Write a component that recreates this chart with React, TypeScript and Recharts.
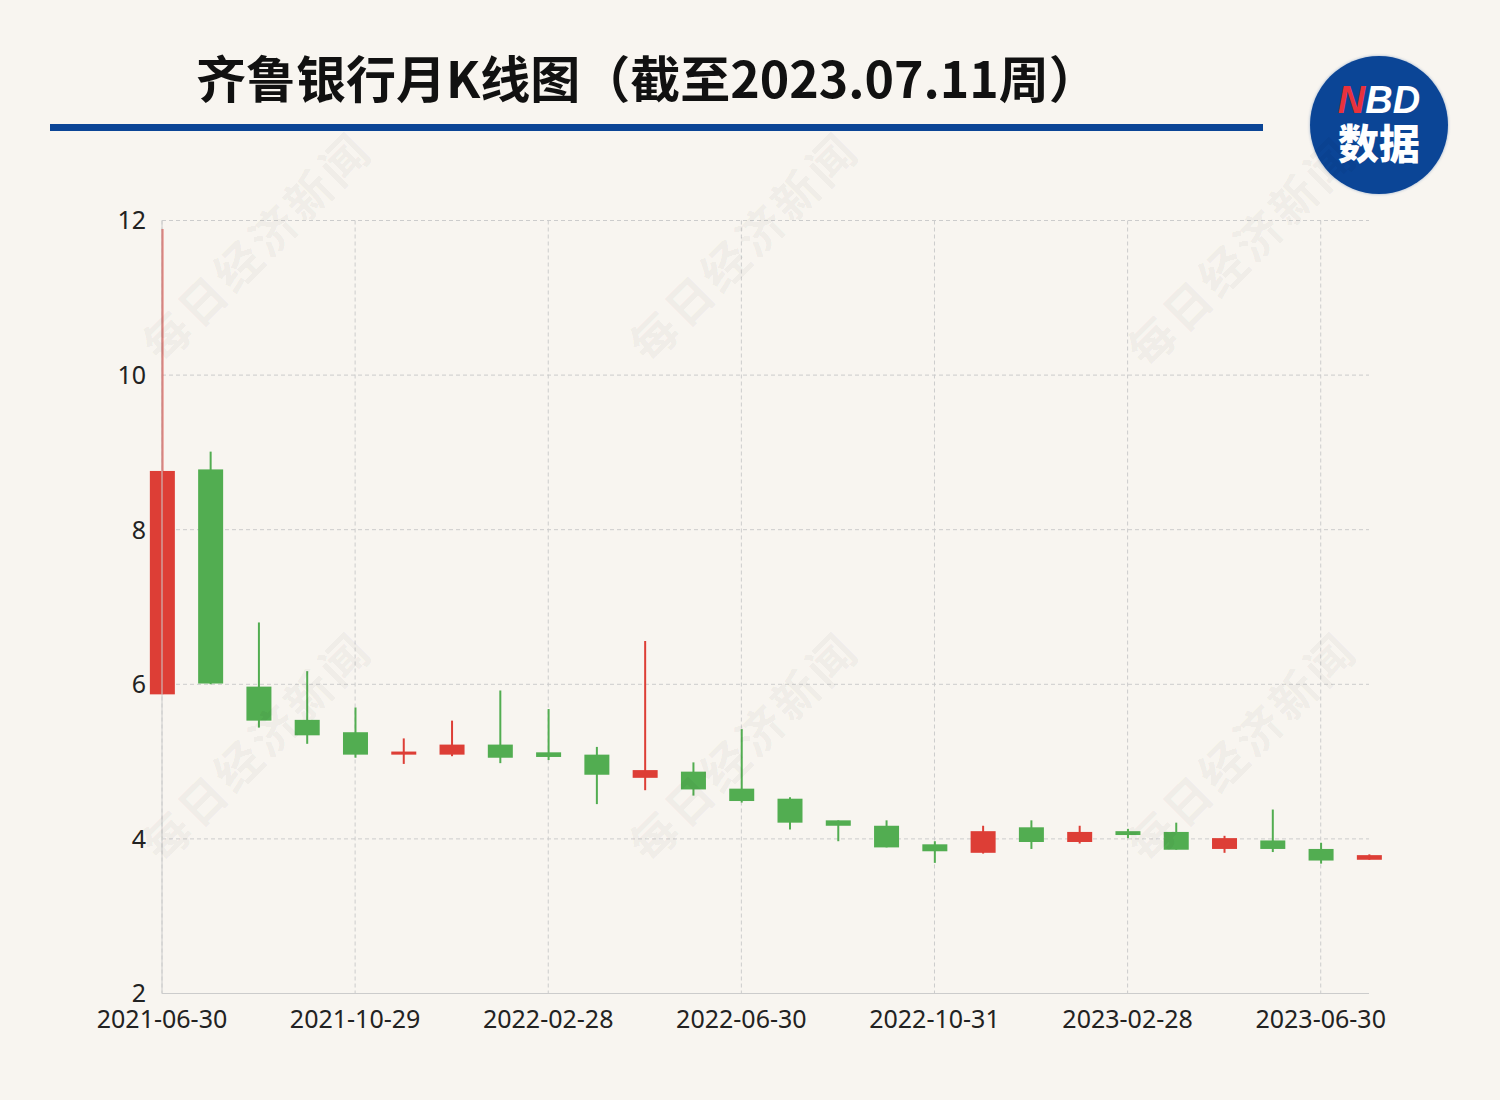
import React from 'react'
import { ComposedChart, Bar, XAxis, YAxis, CartesianGrid } from 'recharts'

// monthly candles, 齐鲁银行
const dates = [
  '2021-06-30', '2021-07-30', '2021-08-31', '2021-09-30', '2021-10-29', '2021-11-30', '2021-12-31',
  '2022-01-28', '2022-02-28', '2022-03-31', '2022-04-29', '2022-05-31', '2022-06-30', '2022-07-29',
  '2022-08-31', '2022-09-30', '2022-10-31', '2022-11-30', '2022-12-30', '2023-01-31', '2023-02-28',
  '2023-03-31', '2023-04-28', '2023-05-31', '2023-06-30', '2023-07-11',
]
const opens = [5.87, 8.78, 5.97, 5.54, 5.38, 5.09, 5.09, 5.22, 5.12, 5.09, 4.79, 4.87, 4.65, 4.52, 4.24, 4.17, 3.93, 3.82, 4.15, 3.96, 4.1, 4.09, 3.87, 3.98, 3.87, 3.73]
const closes = [8.76, 6.01, 5.53, 5.34, 5.09, 5.13, 5.22, 5.05, 5.06, 4.83, 4.89, 4.64, 4.49, 4.21, 4.17, 3.89, 3.84, 4.1, 3.96, 4.09, 4.05, 3.86, 4.01, 3.87, 3.72, 3.79]
const highs = [11.89, 9.01, 6.8, 6.17, 5.7, 5.3, 5.53, 5.92, 5.68, 5.19, 6.56, 4.99, 5.42, 4.54, 4.24, 4.24, 3.97, 4.17, 4.24, 4.17, 4.13, 4.21, 4.04, 4.38, 3.95, 3.8]
const lows = [5.87, 6.0, 5.44, 5.23, 5.05, 4.97, 5.07, 4.98, 5.02, 4.45, 4.63, 4.56, 4.47, 4.12, 3.97, 3.89, 3.69, 3.81, 3.87, 3.94, 4.01, 3.86, 3.82, 3.83, 3.68, 3.73]

const yTicks = [2, 4, 6, 8, 10, 12]
const xTicks = [0, 4, 8, 12, 16, 20, 24]

const RED = '#dd3e36'
const GREEN = '#52ad51'
const BG = '#f8f5f0'

const data = dates.map((date, i) => ({
  i,
  date,
  open: opens[i],
  close: closes[i],
  high: highs[i],
  low: lows[i],
}))

function Candle(props: any) {
  const { x, y, width, height, payload } = props
  const { open, close, high, low } = payload
  const color = close >= open ? RED : GREEN
  const ratio = high - low > 0 ? height / (high - low) : 0
  const yOf = (v: number) => y + (high - v) * ratio
  const top = yOf(Math.max(open, close))
  const bottom = yOf(Math.min(open, close))
  const cx = x + width / 2
  return (
    <g>
      <line x1={cx} x2={cx} y1={y} y2={y + height} stroke={color} strokeWidth={2} />
      <rect x={x} y={top} width={width} height={Math.max(bottom - top, 3)} fill={color} />
    </g>
  )
}

const marks = [
  [255, 245], [742, 245], [1240, 250],
  [255, 745], [742, 745], [1240, 745],
]

export default function App() {
  const tickStyle = { fontSize: 25, fill: '#222', fontFamily: '"Noto Sans", sans-serif' }
  return (
    <div style={{ position: 'absolute', left: 0, top: 0, width: 1500, height: 1100, background: BG, overflow: 'hidden' }}>
      <div
        style={{
          position: 'absolute', left: 196, top: 42, fontSize: 50, fontWeight: 700, color: '#111',
          fontFamily: '"Noto Sans CJK SC", sans-serif', whiteSpace: 'nowrap', lineHeight: '68px',
        }}
      >
        齐鲁银行月K线图（截至2023.07.11周）
      </div>
      <div style={{ position: 'absolute', left: 50, top: 124, width: 1213, height: 7, background: '#0b4596' }} />
      <div
        style={{
          position: 'absolute', left: 1310, top: 56, width: 138, height: 138, borderRadius: '50%',
          background: '#0b4596', color: '#fff', textAlign: 'center', boxShadow: '0 0 3px rgba(11,69,150,0.4)',
        }}
      >
        <div style={{ position: 'absolute', left: 0, right: 0, top: 27, fontSize: 38, fontWeight: 700, fontStyle: 'italic', fontFamily: '"Liberation Sans", sans-serif', lineHeight: '34px' }}>
          <span style={{ color: '#e8323c' }}>N</span>BD
        </div>
        <div style={{ position: 'absolute', left: 0, right: 0, top: 64, fontSize: 41, fontWeight: 900, fontFamily: '"Noto Sans CJK SC", sans-serif', lineHeight: '42px' }}>
          数据
        </div>
      </div>

      <div style={{ position: 'absolute', left: 0, top: 0 }}>
        <ComposedChart width={1500} height={1100} data={data} margin={{ top: 220.5, right: 131, bottom: 46.5, left: 0 }}>
          <CartesianGrid stroke="#cccccc" strokeDasharray="4 3" verticalValues={xTicks} horizontalValues={yTicks} />
          <XAxis
            dataKey="i"
            type="number"
            domain={[0, 25]}
            ticks={xTicks}
            tickFormatter={(v: number) => dates[v]}
            height={60}
            tickLine={false}
            tickMargin={10.5}
            stroke="#cccccc"
            tick={tickStyle}
            interval={0}
          />
          <YAxis
            type="number"
            domain={[2, 12]}
            ticks={yTicks}
            width={162}
            tickLine={false}
            tickMargin={10}
            stroke="#cccccc"
            tick={tickStyle}
            interval={0}
          />
          <Bar dataKey={(d: any) => [d.low, d.high]} barSize={25} shape={Candle} isAnimationActive={false} />
        </ComposedChart>
      </div>

      {marks.map(([cx, cy], k) => (
        <div
          key={k}
          style={{
            position: 'absolute', left: cx - 160, top: cy - 30, width: 320, textAlign: 'center',
            transform: 'rotate(-45deg)', fontSize: 46, fontWeight: 700, letterSpacing: 4,
            color: 'rgba(0,0,0,0.055)', fontFamily: '"Noto Sans CJK SC", sans-serif', lineHeight: '60px',
            pointerEvents: 'none', whiteSpace: 'nowrap',
          }}
        >
          每日经济新闻
        </div>
      ))}
    </div>
  )
}
